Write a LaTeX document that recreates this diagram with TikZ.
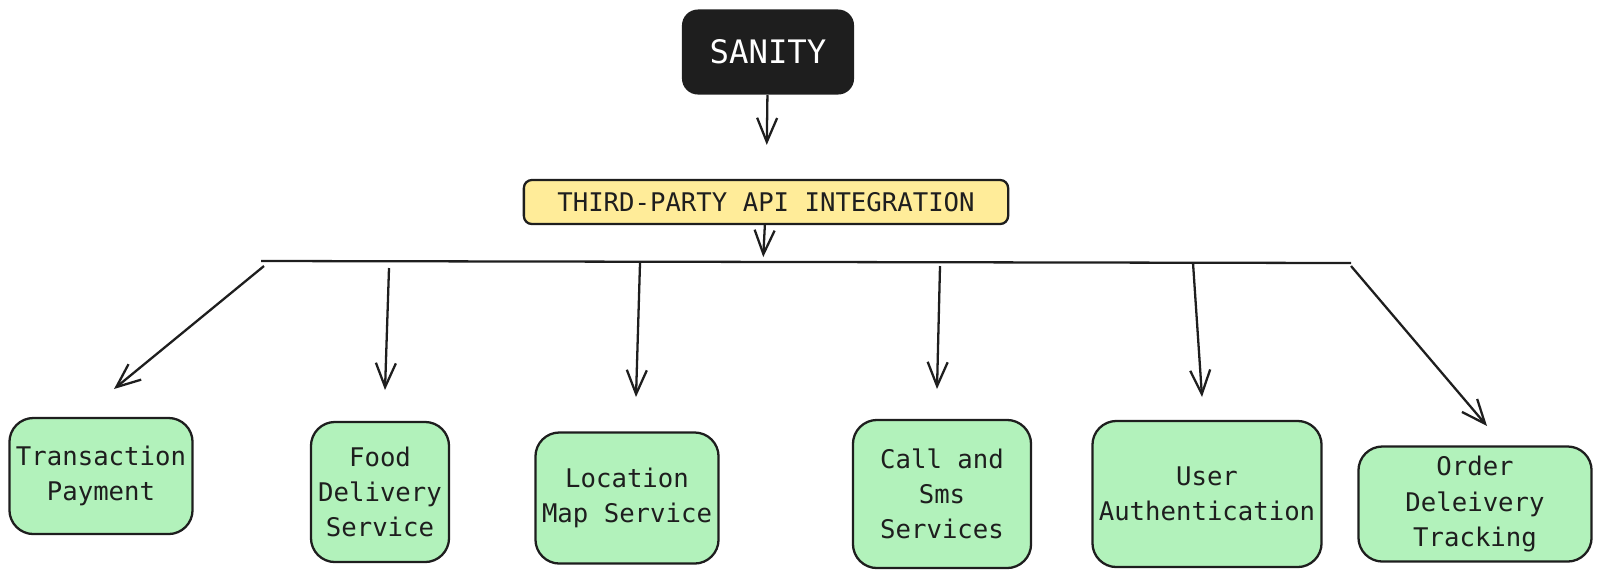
\documentclass[tikz,border=0pt]{standalone}
\usepackage{fontspec}
\setmonofont{DejaVu Sans Mono}
\usetikzlibrary{arrows.meta}
\definecolor{ink}{HTML}{1E1E1E}
\definecolor{mint}{HTML}{B2F2BB}
\definecolor{butter}{HTML}{FFEC99}
\begin{document}
\begin{tikzpicture}[x=0.01cm, y=-0.01cm]
        \tikzstyle{svc} = [rectangle, draw=ink, fill=mint, text=ink, line width=0.65pt, rounded corners=2.4mm, align=center, inner sep=0pt, font=\ttfamily\fontsize{7.3}{10}\selectfont]
        \tikzstyle{arr} = [draw=ink, line width=0.65pt, -{Straight Barb[length=2.4mm, width=2mm]}]
        \useasboundingbox (0,0) rectangle (1601,578);

        \node (sanity) [rectangle, fill=ink, text=white, rounded corners=1.6mm, minimum width=1.72cm, minimum height=0.85cm, font=\ttfamily\fontsize{9.2}{11}\selectfont] at (768,52) {SANITY};
        \node (api) [rectangle, draw=ink, fill=butter, text=ink, line width=0.65pt, rounded corners=0.8mm, minimum width=4.84cm, minimum height=0.44cm, font=\ttfamily\fontsize{7.3}{9}\selectfont] at (766,202) {THIRD-PARTY API INTEGRATION};

        \node (trans) [svc, minimum width=1.83cm, minimum height=1.16cm] at (101,476) {Transaction\\Payment};
        \node (food) [svc, minimum width=1.38cm, minimum height=1.40cm] at (380,492) {Food\\Delivery\\Service};
        \node (loc) [svc, minimum width=1.83cm, minimum height=1.31cm] at (627,498) {Location\\Map Service};
        \node (call) [svc, minimum width=1.78cm, minimum height=1.48cm] at (942,494) {Call and\\Sms\\Services};
        \node (user) [svc, minimum width=2.29cm, minimum height=1.46cm] at (1207,494) {User\\Authentication};
        \node (order) [svc, minimum width=2.33cm, minimum height=1.15cm] at (1475,504) {Order\\Deleivery\\Tracking};

        % the bar under the api box
        \coordinate (barL) at (261,261);
        \coordinate (barR) at (1351,263);
        \coordinate (hub) at (763,262);
        \draw[draw=ink, line width=0.65pt] (barL) -- (barR);

        \draw[arr, shorten >=34pt*0.2845] (sanity) -- (api);
        \draw[arr, shorten >=1.4pt] (api) -- (hub);

        % branches
        \coordinate (tap1) at (264,266);
        \coordinate (tap2) at (389,268);
        \coordinate (tap3) at (640,263);
        \coordinate (tap4) at (940,266);
        \coordinate (tap5) at (1193,263);
        \coordinate (tap6) at (1351,266);
        \coordinate (tip1) at (114,389);
        \coordinate (tip2) at (385,390);
        \coordinate (tip3) at (636,397);
        \coordinate (tip4) at (937,389);
        \coordinate (tip5) at (1202,397);
        \coordinate (tip6) at (1487,426);

        \draw[arr] (tap1) -- (tip1);
        \draw[arr] (tap2) -- (tip2);
        \draw[arr] (tap3) -- (tip3);
        \draw[arr] (tap4) -- (tip4);
        \draw[arr] (tap5) -- (tip5);
        \draw[arr] (tap6) -- (tip6);
    \end{tikzpicture}
\end{document}
